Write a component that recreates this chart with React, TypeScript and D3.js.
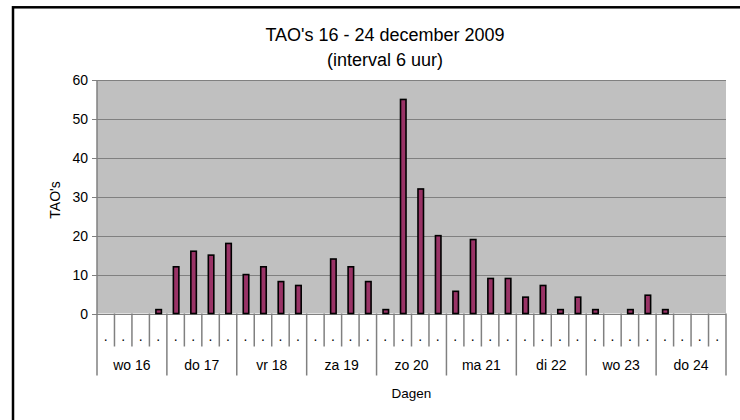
import React from 'react';
import { scaleBand, scaleLinear, range } from 'd3';

const days = ['wo 16', 'do 17', 'vr 18', 'za 19', 'zo 20', 'ma 21', 'di 22', 'wo 23', 'do 24'];
const slots = ['.', '.', '.', '.'];
// TAO's per 6 hour interval, 4 per day
const values = [
  0, 0, 0, 1,
  12, 16, 15, 18,
  10, 12, 8.2, 7.2,
  0, 14, 12, 8.2,
  1, 55, 32, 20,
  5.7, 19, 9, 9,
  4.2, 7.2, 1, 4.2,
  1, 0, 1, 4.7,
  1, 0, 0, 0,
];
const yTicks = [0, 10, 20, 30, 40, 50, 60];

const W = 740;
const H = 420;
const left = 97, right = 726, top = 80, bottom = 313.5;
const font = 'Liberation Sans, Arial, sans-serif';

const App = () => {
  const cats = range(days.length * slots.length);
  const x = scaleBand<number>().domain(cats).range([left, right]).padding(0);
  const y = scaleLinear().domain([0, 60]).range([bottom, top]);
  const bw = x.bandwidth();
  const barW = 5.5;

  return (
    <svg width={W} height={H} style={{ position: 'absolute', left: 0, top: 0, background: '#fff' }}>
      {/* chart frame */}
      <rect x={13} y={7.3} width={800} height={500} fill="none" stroke="#000" strokeWidth={2.5} />

      <text x={385} y={41} textAnchor="middle" fontFamily={font} fontSize={18}>TAO's 16 - 24 december 2009</text>
      <text x={385} y={66} textAnchor="middle" fontFamily={font} fontSize={18}>(interval 6 uur)</text>

      {/* plot area */}
      <rect x={left} y={top} width={right - left} height={bottom - top} fill="#c0c0c0" />
      {yTicks.map(t => (
        <g key={t}>
          <line x1={left - 5} x2={right} y1={Math.round(y(t)) + 0.5} y2={Math.round(y(t)) + 0.5} stroke="#808080" strokeWidth={1.2} />
          <text x={88} y={y(t) + 5} textAnchor="end" fontFamily={font} fontSize={14}>{t}</text>
        </g>
      ))}
      <line x1={left} x2={left} y1={top} y2={bottom + 62} stroke="#808080" strokeWidth={1.5} />

      {/* bars */}
      {values.map((v, i) => v > 0 && (
        <rect key={i}
          x={(x(i) as number) + bw / 2 - barW / 2 + 0.5}
          y={y(v)}
          width={barW}
          height={bottom - y(v)}
          fill="#993366" stroke="#000" strokeWidth={1.6} />
      ))}

      {/* category axis */}
      {cats.map(i => {
        const xe = (x(i) as number) + bw;
        const major = (i + 1) % slots.length === 0;
        return (
          <g key={i}>
            <line x1={xe} x2={xe} y1={bottom} y2={major ? bottom + 62 : bottom + 33} stroke="#808080" strokeWidth={1.5} />
            <text x={(x(i) as number) + bw / 2} y={341} textAnchor="middle" fontFamily={font} fontSize={14}>{slots[i % slots.length]}</text>
          </g>
        );
      })}
      {days.map((d, j) => (
        <text key={d} x={(x(j * 4) as number) + bw * 2} y={370} textAnchor="middle" fontFamily={font} fontSize={14}>{d}</text>
      ))}

      <text x={(left + right) / 2} y={398} textAnchor="middle" fontFamily={font} fontSize={13.5}>Dagen</text>
      <text transform={`translate(60,200) rotate(-90)`} textAnchor="middle" fontFamily={font} fontSize={14}>TAO's</text>
    </svg>
  );
};

export default App;
